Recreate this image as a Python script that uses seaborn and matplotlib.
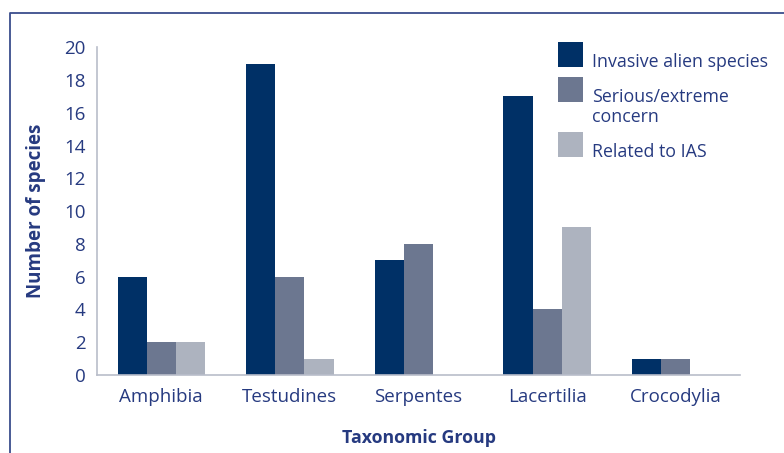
import numpy as np
import pandas as pd
import matplotlib
matplotlib.use("Agg")
import matplotlib.pyplot as plt
from matplotlib.lines import Line2D
from matplotlib.patches import Rectangle
import seaborn as sns

groups = ["Amphibia", "Testudines", "Serpentes", "Lacertilia", "Crocodylia"]
series = ["Invasive alien species", "Serious/extreme\nconcern", "Related to IAS"]
invasive = [6, 19, 7, 17, 1]
serious = [2, 6, 8, 4, 1]
related = [2, 1, 0, 9, 0]
yticks = [0, 2, 4, 6, 8, 10, 12, 14, 16, 18, 20]

colors = ["#003066", "#6c7790", "#adb3bf"]
text_col = "#263a80"
axis_col = "#b9bdca"

W, H = 784, 453

df = pd.DataFrame({
    "group": groups * 3,
    "series": [s for s in series for _ in groups],
    "value": invasive + serious + related,
})

sns.set_style("white")
plt.rcParams["font.family"] = ["Open Sans", "DejaVu Sans"]

fig = plt.figure(figsize=(W / 100, H / 100), dpi=100)
ax = fig.add_axes([0.1237, 0.172, 0.8203, 0.724])

sns.barplot(data=df, x="group", y="value", hue="series", hue_order=series,
            palette=colors, width=0.68, saturation=1, linewidth=0, ax=ax, legend=False)

ax.set_xlim(-0.5, 4.5)
ax.set_ylim(0, 20)
ax.set_yticks(yticks)
ax.tick_params(axis="y", length=5, color=axis_col, labelsize=13.5, labelcolor=text_col, pad=3)
ax.tick_params(axis="x", which="major", length=0, labelsize=13.5, labelcolor=text_col, pad=9)
ax.set_xticks(np.arange(-0.5, 5.0, 1.0), minor=True)
ax.tick_params(axis="x", which="minor", length=4, color=axis_col, direction="out")

for side in ["top", "right"]:
    ax.spines[side].set_visible(False)
for side in ["left", "bottom"]:
    ax.spines[side].set_color(axis_col)
    ax.spines[side].set_linewidth(1.2)

ax.set_xlabel("Taxonomic Group", fontsize=12.8, fontweight="bold", color=text_col, labelpad=17)
ax.set_ylabel("Number of species", fontsize=13.5, fontweight="bold", color=text_col, labelpad=13)

# legend drawn by hand: square swatch, label baseline on swatch bottom
swatch_tops = [42, 77, 132]
for label, c, top in zip(series, colors, swatch_tops):
    fig.add_artist(Rectangle((558 / W, 1 - (top + 25) / H), 25 / W, 25 / H,
                             transform=fig.transFigure, facecolor=c, edgecolor="none"))
    lines = label.split("\n")
    for k, line in enumerate(lines):
        fig.text(592 / W, 1 - (top + 25 + 20 * k) / H, line, fontsize=12.8,
                 color=text_col, ha="left", va="baseline")

# frame lines (top and left)
fig.add_artist(Line2D([10 / W, 10 / W, 1.0], [0.0, 1 - 13 / H, 1 - 13 / H],
                      transform=fig.transFigure, color="#3a4d8c", lw=1.3))

fig.savefig("out.png", dpi=100)
